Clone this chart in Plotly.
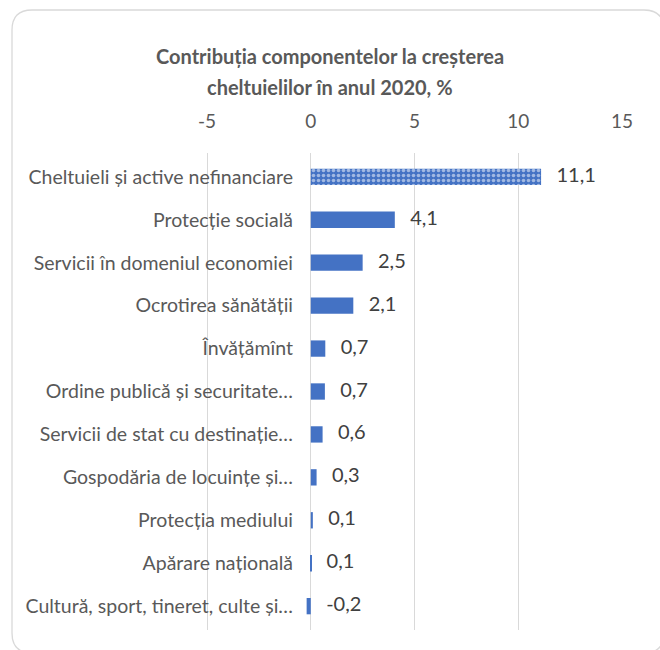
import plotly.graph_objects as go

# Data
categories = [
    "Cheltuieli și active nefinanciare",
    "Protecție socială",
    "Servicii în domeniul economiei",
    "Ocrotirea sănătății",
    "Învățămînt",
    "Ordine publică și securitate…",
    "Servicii de stat cu destinație…",
    "Gospodăria de locuințe și…",
    "Protecția mediului",
    "Apărare națională",
    "Cultură, sport, tineret, culte și…",
]
values = [11.1, 4.05, 2.5, 2.05, 0.7, 0.68, 0.57, 0.28, 0.1, 0.02, -0.2]
value_labels = ["11,1", "4,1", "2,5", "2,1", "0,7", "0,7", "0,6", "0,3", "0,1", "0,1", "-0,2"]
tick_vals = [-5, 0, 5, 10, 15]
title_lines = ["Contribuția componentelor la creșterea", "cheltuielilor în anul 2020, %"]

BLUE = "#4472C4"
GRID = "#d9d9d9"
TEXT = "#595959"
FONT = "Lato"

W, H = 660, 650
M = dict(l=206, r=38, t=153, b=20)
PW = W - M["l"] - M["r"]
PH = H - M["t"] - M["b"]


def px(x):
    return (x - M["l"]) / PW


def py(y):
    return (H - M["b"] - y) / PH


fig = go.Figure()

fig.add_trace(go.Bar(
    x=values, y=categories, orientation="h",
    marker=dict(
        color=BLUE, line=dict(width=0),
        pattern=dict(
            shape=["."] + [""] * (len(values) - 1),
            fgcolor="white", bgcolor=BLUE, size=5, solidity=0.4,
        ),
    ),
    hoverinfo="skip", showlegend=False,
))

fig.add_trace(go.Scatter(
    x=[max(v, 0) for v in values], y=categories,
    mode="text", text=["   " + t for t in value_labels],
    textposition="middle right",
    textfont=dict(family=FONT, size=20, color="#404040"),
    cliponaxis=False, hoverinfo="skip", showlegend=False,
))

# rounded chart frame (right and bottom edges run off the page)
x0, y0, x1, y1, r = 12, 10, 664, 653, 20
path = (
    f"M {px(x0)} {py(y0 + r)} L {px(x0)} {py(y1 - r)} "
    f"Q {px(x0)} {py(y1)} {px(x0 + r)} {py(y1)} L {px(x1 - r)} {py(y1)} "
    f"Q {px(x1)} {py(y1)} {px(x1)} {py(y1 - r)} L {px(x1)} {py(y0 + r)} "
    f"Q {px(x1)} {py(y0)} {px(x1 - r)} {py(y0)} L {px(x0 + r)} {py(y0)} "
    f"Q {px(x0)} {py(y0)} {px(x0)} {py(y0 + r)} Z"
)
fig.add_shape(type="path", path=path, xref="paper", yref="paper",
              line=dict(color=GRID, width=1.3), layer="below")

# two-line title with Excel-like line spacing
for line, ypix in zip(title_lines, [56, 87]):
    fig.add_annotation(
        text=f"<b>{line}</b>", showarrow=False,
        x=px(W / 2), y=py(ypix), xref="paper", yref="paper",
        xanchor="center", yanchor="middle",
        font=dict(family=FONT, size=20, color=TEXT),
    )

fig.update_layout(
    width=W, height=H,
    margin=M,
    paper_bgcolor="white", plot_bgcolor="white",
    bargap=0.62,
    font=dict(family=FONT, color=TEXT),
    xaxis=dict(
        side="top", range=[-5.05, 15], tickvals=tick_vals,
        ticktext=[str(v) for v in tick_vals],
        showgrid=True, gridcolor=GRID, gridwidth=1,
        zeroline=True, zerolinecolor=GRID, zerolinewidth=1,
        showline=False, ticks="", ticklabelstandoff=20,
        tickfont=dict(family=FONT, size=19, color=TEXT),
    ),
    yaxis=dict(
        type="category", autorange="reversed",
        anchor="free", position=px(311),
        showgrid=False, zeroline=False, showline=False,
        ticks="", ticklabelstandoff=18,
        tickfont=dict(family=FONT, size=19.5, color=TEXT),
    ),
)

fig.write_html("out.html", config={"displayModeBar": False},
               post_script="document.body.style.margin='0';")
